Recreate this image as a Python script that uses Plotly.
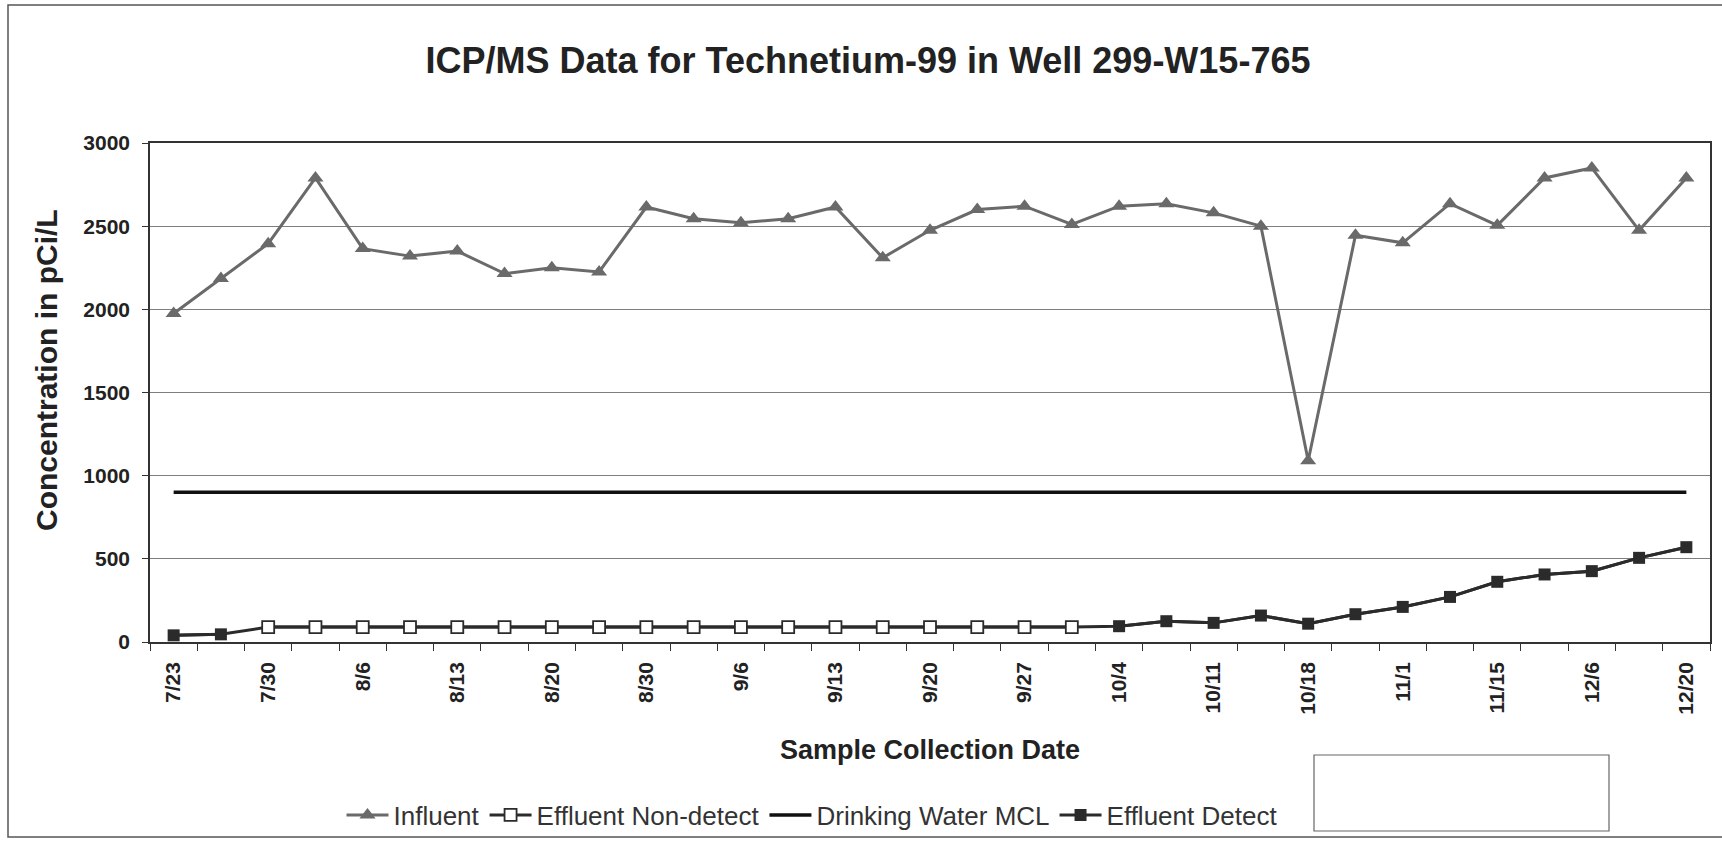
import plotly.graph_objects as go

# ---- data ----
dates = ["7/23", "7/26", "7/30", "8/2", "8/6", "8/9", "8/13", "8/16", "8/20", "8/23",
         "8/30", "9/2", "9/6", "9/9", "9/13", "9/16", "9/20", "9/23", "9/27", "9/30",
         "10/4", "10/7", "10/11", "10/14", "10/18", "10/25", "11/1", "11/8", "11/15",
         "11/29", "12/6", "12/13", "12/20"]
tick_labels = dates[::2]

influent = [1975, 2185, 2395, 2790, 2365, 2320, 2350, 2215, 2250, 2225,
            2615, 2545, 2520, 2545, 2615, 2310, 2475, 2600, 2620, 2510,
            2620, 2635, 2580, 2500, 1090, 2445, 2400, 2635, 2505, 2790,
            2850, 2475, 2790]

effluent_nondetect = [None, None, 90, 90, 90, 90, 90, 90, 90, 90,
                      90, 90, 90, 90, 90, 90, 90, 90, 90, 90,
                      None, None, None, None, None, None, None, None, None, None,
                      None, None, None]

effluent_detect = [40, 46, None, None, None, None, None, None, None, None,
                   None, None, None, None, None, None, None, None, None, None,
                   95, 125, 115, 159, 110, 167, 211, 271, 362, 406,
                   426, 506, 570]

mcl = [900] * len(dates)

# ---- figure ----
idx = list(range(len(dates)))
tick_idx = idx[::2]
effluent_all = [d if d is not None else n for d, n in zip(effluent_detect, effluent_nondetect)]

FONT = "Liberation Sans, Arial, sans-serif"
INF_COLOR = "#6a6a6a"
EFF_COLOR = "#2b2b2b"

W, H = 1722, 842
L, R, T, B = 150, 12, 143, 200
PW, PH = W - L - R, H - T - B


def px_x(x):
    return (x - L) / PW


def px_y(y):
    return (H - B - y) / PH


fig = go.Figure()

# connecting line for all effluent results (no legend entry)
fig.add_trace(go.Scatter(x=idx, y=effluent_all, mode="lines",
                         line=dict(color=EFF_COLOR, width=3),
                         showlegend=False, hoverinfo="skip"))

fig.add_trace(go.Scatter(x=idx, y=influent, mode="lines+markers", name="Influent",
                         line=dict(color=INF_COLOR, width=3),
                         marker=dict(symbol="triangle-up", size=14, color=INF_COLOR)))

fig.add_trace(go.Scatter(x=idx, y=effluent_nondetect, mode="lines+markers",
                         name="Effluent Non-detect",
                         line=dict(color=EFF_COLOR, width=3),
                         marker=dict(symbol="square", size=12, color="white",
                                     line=dict(color=EFF_COLOR, width=1.8))))

fig.add_trace(go.Scatter(x=idx, y=mcl, mode="lines", name="Drinking Water MCL",
                         line=dict(color="#111111", width=3.5)))

fig.add_trace(go.Scatter(x=idx, y=effluent_detect, mode="lines+markers",
                         name="Effluent Detect",
                         line=dict(color=EFF_COLOR, width=3),
                         marker=dict(symbol="square", size=12, color=EFF_COLOR)))

fig.update_layout(
    width=W, height=H,
    margin=dict(l=L, r=R, t=T, b=B, autoexpand=False),
    paper_bgcolor="white", plot_bgcolor="white",
    font=dict(family=FONT, color="#222222"),
    title=dict(text="<b>ICP/MS Data for Technetium-99 in Well 299-W15-765</b>",
               x=868 / W, xanchor="center", y=1 - 60 / H, yanchor="middle",
               font=dict(size=36, family=FONT, color="#222222")),
    showlegend=True,
    legend=dict(orientation="h", x=px_x(812), xanchor="center",
                y=px_y(815), yanchor="middle",
                font=dict(size=26, family=FONT, color="#333333"),
                itemwidth=42, bgcolor="rgba(0,0,0,0)"),
    annotations=[
        dict(text="<b>Concentration in pCi/L</b>", xref="paper", yref="paper",
             x=px_x(46), y=px_y(370), xanchor="center", yanchor="middle",
             textangle=-90, showarrow=False,
             font=dict(size=30, family=FONT, color="#222222")),
    ],
    shapes=[
        # outer chart frame
        dict(type="rect", xref="paper", yref="paper",
             x0=px_x(8), x1=px_x(1730), y0=px_y(837), y1=px_y(5),
             line=dict(color="#555555", width=1.5), layer="below"),
        # empty box at lower right
        dict(type="rect", xref="paper", yref="paper",
             x0=px_x(1314), x1=px_x(1609), y0=px_y(831), y1=px_y(755),
             line=dict(color="#666666", width=1.2)),
    ],
)

fig.update_xaxes(
    range=[-0.5, len(dates) - 0.5], automargin=False,
    tickmode="array", tickvals=tick_idx, ticktext=[f"<b>{t}</b>" for t in tick_labels],
    tickangle=-90, tickfont=dict(size=21, family=FONT, color="#222222"),
    ticks="", ticklabelstandoff=10,
    minor=dict(tickmode="linear", tick0=-0.5, dtick=1, ticks="outside", ticklen=7,
               tickcolor="#333333", tickwidth=1.2, showgrid=False),
    showgrid=False, zeroline=False,
    showline=True, linecolor="#333333", linewidth=1.5, mirror=True,
    title=dict(text="<b>Sample Collection Date</b>", standoff=26,
               font=dict(size=27, family=FONT, color="#222222")),
)

fig.update_yaxes(
    range=[0, 3000], tickmode="linear", tick0=0, dtick=500, automargin=False,
    tickfont=dict(size=21, family=FONT, color="#222222"),
    tickprefix="<b>", ticksuffix="</b>",
    ticks="outside", ticklen=6, tickcolor="#333333", ticklabelstandoff=8,
    showgrid=True, gridcolor="#7e7e7e", gridwidth=1.2,
    zeroline=False,
    showline=True, linecolor="#333333", linewidth=1.5, mirror=True,
)

fig.write_html("out.html", config={"displayModeBar": False},
               post_script="document.body.style.margin='0';")
